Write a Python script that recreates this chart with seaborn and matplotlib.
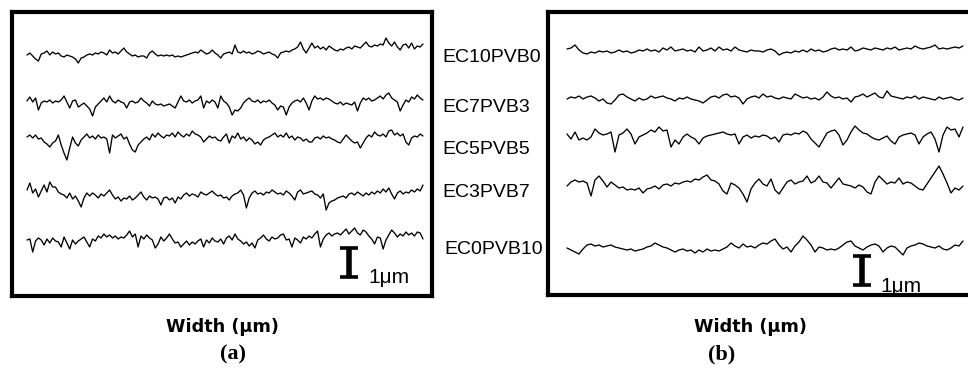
import numpy as np
import pandas as pd
import matplotlib
matplotlib.use("Agg")
import matplotlib.pyplot as plt
import seaborn as sns

# ---------------- data (surface profile heights, nm) ----------------
samples = ["EC10PVB0", "EC7PVB3", "EC5PVB5", "EC3PVB7", "EC0PVB10"]
panel_labels = ["(a)", "(b)"]
x_label = "Width (\u03bcm)"
scale_label = "1\u03bcm"

# panel (a)
a_EC10PVB0 = [0, 70, -35, -140, -210, 35, 70, 140, 0, 105,
              35, 70, -35, -70, 0, -35, -70, -140, -280, -105,
              -70, 0, 35, 0, 70, 35, 105, 70, 0, 175,
              70, 105, 35, 140, 245, 105, 35, -35, 0, -70,
              -35, -35, -105, 70, 140, 35, -35, 0, -35, 0,
              -35, 0, -70, -35, -70, -35, 0, 35, 70, 105,
              70, 175, 105, 35, 70, 175, 70, 0, -105, 35,
              70, 105, 35, 350, 105, 70, 140, 70, 105, 35,
              70, 140, 105, 35, 70, 105, 35, 0, -105, 70,
              105, 140, 105, 175, 210, 280, 455, 210, 70, 245,
              420, 245, 315, 210, 280, 175, 315, 245, 175, 140,
              210, 175, 245, 280, 210, 315, 280, 245, 350, 455,
              315, 280, 350, 315, 385, 350, 595, 420, 315, 455,
              280, 175, 350, 385, 245, 420, 210, 315, 280, 385]
a_EC7PVB3 = [70, 210, 35, 175, -245, 0, 70, 35, 105, 0,
             70, 35, 105, 245, 35, -175, 70, 105, -140, -70,
             0, -105, -210, -455, -140, -35, 70, 175, 35, 245,
             70, 0, 105, 35, 0, -175, 35, 70, 0, 35,
             175, 70, 0, -105, 70, -35, -70, -35, -105, -70,
             -35, -105, -175, 35, 245, 70, 35, 105, 0, 70,
             105, 245, -175, 70, 0, 105, 35, -175, 245, 70,
             0, -140, -420, -245, -280, -175, 0, 105, 175, 70,
             35, 105, 0, 70, 35, 105, 0, -70, -245, -105,
             -140, -420, -140, 0, 70, 105, 35, 175, 0, -245,
             70, 245, 140, 175, 105, 175, 140, 70, 0, -35,
             35, -70, 0, -35, -70, 35, -280, 0, 175, 105,
             175, 70, 105, 175, 245, 140, 280, 350, 175, 105,
             35, -280, -70, 105, 35, 210, 140, 280, 175, 105]
a_EC5PVB5 = [105, 175, 70, 175, 35, 70, -70, -140, -245, -105,
             -35, 175, -175, -455, -700, -280, 105, -105, -210, 0,
             105, 210, 70, 140, 35, 175, 70, 105, 35, -455,
             175, 70, 140, 210, 35, 105, -140, -350, -420, -175,
             -70, 35, 105, 0, 210, 105, 245, 140, 70, 175,
             140, 245, 105, 280, 175, 105, 210, 140, 315, 210,
             175, 105, -70, 35, 140, 70, 105, 0, -35, 105,
             210, -105, 140, 70, 245, 35, 105, -35, 70, 0,
             -140, -70, -175, 0, 70, 105, 175, 245, 105, 175,
             105, 245, 70, 140, 0, 105, 70, -35, 35, -70,
             -70, 70, 105, 35, 140, 70, 105, 35, 0, -70,
             -105, 35, 175, 70, -35, -105, -70, -280, -105, 70,
             175, 105, 280, 175, 140, 210, 105, 315, 350, 175,
             245, 140, 210, -70, -175, 70, 140, 105, 210, 140]
a_EC3PVB7 = [175, 420, 70, 210, -70, 140, 350, 105, 455, 280,
             280, 105, 35, 0, -105, 70, -140, -35, -210, -420,
             -105, 70, -35, 70, 0, -105, 35, -35, 70, 175,
             0, -140, -70, -210, -105, -140, -35, -175, -105, 0,
             105, -70, -175, -35, -105, -70, -140, -350, -105, -70,
             -175, -105, -280, -70, -140, 0, 70, -35, 35, 0,
             -70, 105, 35, 0, 70, 140, 35, -35, 0, -105,
             -70, -175, -35, 35, 70, 175, 0, -455, -105, 70,
             140, 35, 70, 0, 105, 70, 175, 105, 35, 70,
             0, 140, 70, -35, -175, 105, 175, 35, 70, 105,
             140, 35, 0, -105, 35, -525, -280, -210, -175, -105,
             -70, -35, -105, 35, 70, 0, 105, 35, -35, 70,
             0, 105, 35, 140, 70, 210, 105, 245, 35, -140,
             70, 140, 35, 105, 70, 175, 105, 210, 140, 350]
a_EC0PVB10 = [35, 70, -385, 0, 105, 35, -140, 70, -70, 105,
              0, -35, -210, 140, -70, -280, 35, -105, 0, 70,
              140, -35, -210, 70, 0, 175, 105, 245, 140, 210,
              105, 175, 70, 140, 105, 210, 350, 140, 245, -210,
              175, 70, 210, 105, 35, -245, -105, 140, 0, 105,
              245, 70, -70, -35, -210, -105, 0, -140, -35, -105,
              0, 70, -210, 35, -70, 105, 0, -35, 70, -105,
              105, 175, 35, 245, 70, 0, -105, -35, -175, -70,
              -245, 35, 105, 210, 70, 0, 140, 70, 105, 210,
              245, 35, 70, -210, 105, 35, -70, 140, 70, 175,
              105, 245, 350, -210, 70, 210, 280, 175, 245, 280,
              210, 315, 420, 245, 350, 455, 280, 210, 385, 315,
              175, 70, -105, 140, 105, -280, 35, 210, 385, 280,
              140, 245, 175, 315, 210, 280, 175, 315, 280, 70]

# panel (b)
b_EC10PVB0 = [70, 105, 210, 35, -70, -105, -35, -70, 0, -35,
              0, -70, -35, 35, -35, 0, -70, -35, 35, 0,
              70, 0, 35, -35, 105, 35, 140, 0, 35, 70,
              0, 35, -35, 140, 0, 35, 105, 0, 140, 35,
              70, 0, 140, 35, 0, -35, 35, 0, 0, -35,
              35, 70, 0, -140, -70, -35, -70, 0, -35, 35,
              -35, 70, 0, 35, -35, 0, 70, 105, 35, 70,
              35, 140, 0, 35, 105, 70, 35, 105, 70, 35,
              105, 70, 140, 35, 70, 105, 70, 175, 105, 70,
              105, 140, 210, 70, 105, 70, 105, 140, 105, 175]
b_EC7PVB3 = [0, 70, 35, 105, 0, 70, 105, 35, -70, 0,
             -140, -175, -35, 140, 175, 70, 0, -70, 35, -35,
             0, 105, 35, 70, 105, 35, 0, -70, 35, 0,
             70, 0, -35, -70, -140, -35, 70, 105, 35, 140,
             175, 70, 105, 35, -175, 0, 70, 105, 35, 175,
             70, 105, 35, 0, 70, 35, 0, 175, 105, 35,
             70, 0, 35, -35, 70, 245, 105, 35, 70, 0,
             35, -105, 70, 105, 175, 70, 140, 210, 70, 35,
             280, 105, 70, 35, 0, 70, 35, 105, 0, 70,
             35, 0, -35, 70, 0, 35, 70, 0, -35, 35]
b_EC5PVB5 = [105, -70, 175, -105, -35, -105, 0, 280, 140, 70,
             105, 175, -525, 70, 140, 280, 105, -245, 0, 70,
             140, 245, 175, 350, 210, 245, -350, -105, -245, 0,
             105, 0, -70, -245, -35, 35, 70, 105, 140, 175,
             105, 70, 105, -245, 0, 70, -35, 35, 0, 70,
             35, -70, 0, -175, 70, 105, 70, 140, 105, 210,
             140, -70, -210, -350, -105, 140, 210, 245, 70, -280,
             -105, 175, 385, 245, 140, 105, 0, -70, -105, -35,
             35, -140, -245, 0, 70, 105, 140, 70, -245, 0,
             105, 175, -70, -525, 70, 350, 245, 280, 0, 350]
b_EC3PVB7 = [0, 140, 210, 140, 175, 105, -350, 210, 350, 175,
             -35, 140, 35, -70, -35, -140, -105, -140, -70, -245,
             -105, -70, 0, -105, 35, 70, 0, 105, 70, 140,
             175, 140, 245, 210, 315, 385, 210, 175, 70, -175,
             -280, 105, 35, -70, -280, -560, -105, 105, 245, 70,
             0, 245, -140, -280, -70, 140, 210, 70, 140, 175,
             350, 105, 175, 350, 140, 105, -70, 105, 280, 70,
             35, 0, -70, 35, -35, -210, -280, 140, 350, 210,
             70, 140, 105, 280, 70, 140, 105, 0, -105, -140,
             70, 280, 490, 700, 420, 105, -245, -70, -140, 0]
b_EC0PVB10 = [0, -70, -140, -210, -35, 105, 140, 70, 105, 35,
              70, 105, 35, 0, -35, -70, -35, -105, -70, -35,
              35, 70, 175, 105, 35, 0, -70, -140, -70, -35,
              -105, -70, -175, -70, -140, -35, -105, -70, -105, -35,
              35, 175, 70, 0, 140, 35, 70, 0, 105, 175,
              140, 245, 315, 105, -35, 35, -140, 70, 210, 420,
              280, 105, -140, 35, 0, -70, -35, -70, 0, 105,
              210, 245, 70, 0, -70, 35, 105, 140, 70, -140,
              0, 70, 35, -105, -245, 0, 70, 105, 175, 140,
              70, 35, 0, 70, -35, -70, 0, 105, 70, 245]

panel_a = [a_EC10PVB0, a_EC7PVB3, a_EC5PVB5, a_EC3PVB7, a_EC0PVB10]
panel_b = [b_EC10PVB0, b_EC7PVB3, b_EC5PVB5, b_EC3PVB7, b_EC0PVB10]

# ---------------- layout ----------------
W, H = 968, 381
UM_PER_PX = 0.035  # 1 um ~ 29 px

sns.set_theme(style="white")
plt.rcParams["font.family"] = ["Liberation Sans", "DejaVu Sans"]
plt.rcParams["text.color"] = "black"

fig = plt.figure(figsize=(W / 100, H / 100), dpi=100)


def px_axes(x0, y0, x1, y1):
    return fig.add_axes([x0 / W, 1 - y1 / H, (x1 - x0) / W, (y1 - y0) / H])


def draw_panel(ax, box, traces, baselines_px, trace_x_px, bar_px, txt_px):
    x0, y0, x1, y1 = box
    ax.set_xlim(0, (x1 - x0) * UM_PER_PX)
    ax.set_ylim(0, (y1 - y0) * UM_PER_PX)
    rows = []
    for name, vals, base in zip(samples, traces, baselines_px):
        xs = np.linspace((trace_x_px[0] - x0) * UM_PER_PX,
                         (trace_x_px[1] - x0) * UM_PER_PX, len(vals))
        off = (y1 - base) * UM_PER_PX
        for xv, hv in zip(xs, vals):
            rows.append({"sample": name, "x": xv, "y": off + hv / 1000.0})
    df = pd.DataFrame(rows)
    sns.lineplot(data=df, x="x", y="y", units="sample", estimator=None,
                 color="black", lw=0.95, ax=ax, sort=False, legend=False)
    # 1 um scale bar
    bx = (bar_px[0] - x0) * UM_PER_PX
    by0 = (y1 - bar_px[1]) * UM_PER_PX
    by1 = by0 + 1.0
    hw = 9 * UM_PER_PX
    ax.plot([bx, bx], [by0, by1], color="black", lw=4.0, solid_capstyle="butt")
    ax.plot([bx - hw, bx + hw], [by0, by0], color="black", lw=2.6, solid_capstyle="butt")
    ax.plot([bx - hw, bx + hw], [by1, by1], color="black", lw=2.6, solid_capstyle="butt")
    ax.text((txt_px[0] - x0) * UM_PER_PX, (y1 - txt_px[1]) * UM_PER_PX, scale_label,
            fontsize=15, ha="left", va="baseline", color="black",
            family=["Liberation Sans", "DejaVu Sans"])
    ax.set_xticks([])
    ax.set_yticks([])
    ax.set_xlabel("")
    ax.set_ylabel("")
    for s in ax.spines.values():
        s.set_visible(True)
        s.set_color("black")
        s.set_linewidth(3.0)


ax_a = px_axes(12, 12, 432, 296)
draw_panel(ax_a, (12, 12, 432, 296), panel_a, [55, 103, 140, 195, 241],
           (27, 423), (349, 277), (368, 283))

ax_b = px_axes(548, 12, 978, 295)
draw_panel(ax_b, (548, 12, 978, 295), panel_b, [51, 99, 137, 186, 248],
           (567, 963), (861.5, 285), (880, 292))

# sample labels between panels
label_pos = [(442, 58), (442, 107), (442, 150), (442, 193), (444, 250)]
for name, (lx, ly) in zip(samples, label_pos):
    fig.text(lx / W, 1 - ly / H, name, fontsize=14, ha="left", va="center",
             color="black", family=["Liberation Sans", "DejaVu Sans"])

# axis titles and panel letters
for cx in (222.5, 750.5):
    fig.text(cx / W, 1 - 327 / H, x_label, fontsize=12.7, fontweight="bold",
             ha="center", va="center", color="black", family=["DejaVu Sans"])
for lab, cx in zip(panel_labels, (233, 722)):
    fig.text(cx / W, 1 - 354 / H, lab, fontsize=16, fontweight="bold",
             ha="center", va="center", color="black",
             family=["Liberation Serif", "DejaVu Serif"])

fig.savefig("out.png", dpi=100)
